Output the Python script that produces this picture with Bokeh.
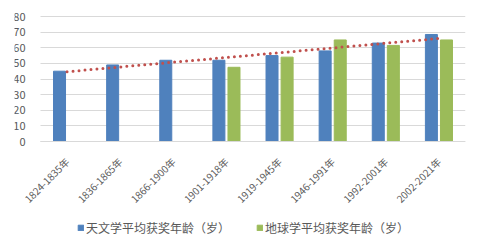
import numpy as np
from bokeh.plotting import figure
from bokeh.models import ColumnDataSource, Legend, LegendItem, Range1d, FixedTicker
from bokeh.embed import file_html
from bokeh.resources import INLINE
from bokeh.core.properties import value

periods = ["1824-1835年", "1836-1865年", "1866-1900年", "1901-1918年",
           "1919-1945年", "1946-1991年", "1992-2001年", "2002-2021年"]
astronomy = [45, 49, 52, 52, 55, 58, 63, 68.5]
geoscience = [float("nan"), float("nan"), float("nan"), 47.5, 54, 65, 61.5, 65]
y_ticks = [0, 10, 20, 30, 40, 50, 60, 70, 80]

label_astro = "天文学平均获奖年龄（岁）"
label_geo = "地球学平均获奖年龄（岁）"

n = len(periods)
centers = np.arange(n) + 0.5

# linear trendline of the astronomy series
k, b = np.polyfit(np.arange(1, n + 1), astronomy, 1)
trend = list(k * np.arange(1, n + 1) + b)

src = ColumnDataSource(dict(
    xa=list(centers - 0.142), xg=list(centers + 0.142), xc=list(centers),
    astro=astronomy, geo=geoscience, trend=trend))

FONT = "Noto Sans CJK SC"
GRAY = "#595959"
GRID = "#D9D9D9"

px_per_cat = 425 / n
px_per_unit = 125 / 80
p = figure(x_range=Range1d(-26 / px_per_cat, n),
           y_range=Range1d(-60.8, 80 + 12 / px_per_unit),
           frame_width=451, frame_height=232, output_backend="svg", toolbar_location=None,
           min_border_left=14, min_border_right=1, min_border_top=4, min_border_bottom=0)

p.outline_line_color = None
p.background_fill_color = "white"
p.border_fill_color = "white"

# horizontal gridlines only over the category area
p.xgrid.grid_line_color = None
grid = p.ygrid[0]
grid.ticker = FixedTicker(ticks=y_ticks)
if "cross_bounds" in grid.properties():
    grid.cross_bounds = (0, n)
    grid.grid_line_color = GRID
else:
    grid.grid_line_color = None
    p.segment(x0=[0] * len(y_ticks), x1=[n] * len(y_ticks), y0=y_ticks, y1=y_ticks,
              line_color=GRID, line_width=1)

r1 = p.vbar(x="xa", top="astro", bottom=0, width=0.226, source=src, color="#4F81BD")
r2 = p.vbar(x="xg", top="geo", bottom=0, width=0.226, source=src, color="#9BBB59")
p.line(x="xc", y="trend", source=src, line_color="#C0504D", line_width=3,
       line_dash="0 6", line_cap="round")

p.yaxis.fixed_location = 0
p.yaxis.ticker = FixedTicker(ticks=y_ticks)
p.yaxis.axis_line_color = None
p.yaxis.major_tick_line_color = None
p.yaxis.minor_tick_line_color = None
p.yaxis.major_label_text_font = FONT
p.yaxis.major_label_text_font_size = "11px"
p.yaxis.major_label_text_color = GRAY
p.yaxis.major_label_standoff = 9

p.xaxis.fixed_location = 0
p.xaxis.bounds = (0, n)
p.xaxis.ticker = FixedTicker(ticks=list(centers))
p.xaxis.major_label_overrides = {float(c): lab for c, lab in zip(centers, periods)}
p.xaxis.axis_line_color = GRID
p.xaxis.major_tick_line_color = None
p.xaxis.minor_tick_line_color = None
p.xaxis.major_label_orientation = np.pi / 4
p.xaxis.major_label_text_font = FONT
p.xaxis.major_label_text_font_size = "10px"
p.xaxis.major_label_text_color = GRAY
p.xaxis.major_label_standoff = 12

legend = Legend(items=[LegendItem(label=label_astro, renderers=[r1]),
                       LegendItem(label=label_geo, renderers=[r2])],
                orientation="horizontal", location=(63, 0))
legend.glyph_width = 7
legend.glyph_height = 7
legend.label_height = 14
legend.label_standoff = 2
legend.spacing = 26
legend.padding = 0
legend.margin = 0
legend.border_line_alpha = 0
legend.background_fill_alpha = 0
legend.label_text_font = FONT
legend.label_text_font_size = "12px"
legend.label_text_color = GRAY
p.add_layout(legend, "center")

open("out.html", "w").write(file_html(p, INLINE))
